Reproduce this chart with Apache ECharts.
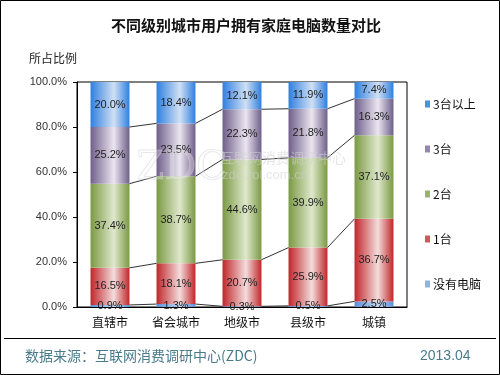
<!DOCTYPE html>
<html>
<head>
<meta charset="utf-8">
<script src="https://cdn.jsdelivr.net/npm/echarts@6/dist/echarts.min.js"></script>
<style>
  html, body { margin: 0; padding: 0; background: #fff; }
  #main { width: 500px; height: 375px; }
</style>
</head>
<body>
<div id="main"></div>
<script>
const categories = ['直辖市', '省会城市', '地级市', '县级市', '城镇']
const noPc = [0.9, 1.3, 0.3, 0.5, 2.5]
const onePc = [16.5, 18.1, 20.7, 25.9, 36.7]
const twoPc = [37.4, 38.7, 44.6, 39.9, 37.1]
const threePc = [25.2, 23.5, 22.3, 21.8, 16.3]
const morePc = [20.0, 18.4, 12.1, 11.9, 7.4]
const seriesNames = ['没有电脑', '1台', '2台', '3台', '3台以上']

const CJK = '"Noto Sans CJK SC", sans-serif'
const NUM = '"Liberation Sans", "Noto Sans CJK SC", sans-serif'
const BAR_RATIO = 0.59

const stacks = [noPc, onePc, twoPc, threePc, morePc]
// running totals per category, used for the connecting lines
const cumulative = categories.map((c, i) => {
  let sum = 0
  return stacks.map(s => (sum += s[i]))
})

function grad(edge, light) {
  return new echarts.graphic.LinearGradient(0, 0, 1, 0, [
    { offset: 0, color: edge },
    { offset: 0.6, color: light },
    { offset: 1, color: edge }
  ])
}

const colors = [
  grad('#5b8fd8', '#c6d8f2'),
  grad('#c0262a', '#f4dcdc'),
  grad('#7a9944', '#dfe8cc'),
  grad('#6e5f8a', '#ebe5f0'),
  grad('#2f7fe0', '#d0e0f4')
]
const legendColors = ['#8fb2e6', '#d0585a', '#9ab46c', '#9588ac', '#4d8fe0']

const chart = echarts.init(document.getElementById('main'))

const barSeries = stacks.map((data, k) => ({
  name: seriesNames[k],
  type: 'bar',
  stack: 'total',
  barWidth: (BAR_RATIO * 100) + '%',
  data: data,
  itemStyle: { color: colors[k] },
  label: {
    show: true,
    position: 'inside',
    color: '#222',
    fontFamily: NUM,
    fontSize: 11,
    formatter: p => p.value.toFixed(1) + '%'
  }
}))

const linkSeries = {
  type: 'custom',
  silent: true,
  z: 5,
  data: categories.slice(0, -1).map((c, i) => [i]),
  renderItem(params, api) {
    const i = api.value(0)
    const half = api.size([1, 0])[0] * BAR_RATIO / 2
    const children = []
    for (let k = 0; k < 4; k++) {
      const a = api.coord([i, cumulative[i][k]])
      const b = api.coord([i + 1, cumulative[i + 1][k]])
      children.push({
        type: 'line',
        shape: { x1: a[0] + half, y1: a[1], x2: b[0] - half, y2: b[1] },
        style: { stroke: '#333', lineWidth: 1 }
      })
    }
    return { type: 'group', children }
  }
}

chart.setOption({
  animation: false,
  backgroundColor: '#fff',
  title: {
    text: '不同级别城市用户拥有家庭电脑数量对比',
    left: 106,
    top: 13,
    textStyle: { fontFamily: CJK, fontSize: 15, fontWeight: 'bold', color: '#111' }
  },
  legend: {
    orient: 'vertical',
    left: 420,
    top: 93,
    itemGap: 33,
    itemWidth: 5,
    itemHeight: 7,
    icon: 'rect',
    data: seriesNames.slice().reverse().map(n => ({
      name: n,
      itemStyle: { color: legendColors[seriesNames.indexOf(n)] }
    })),
    textStyle: { fontFamily: CJK, fontSize: 12, color: '#111', padding: [0, 0, 0, -2] }
  },
  grid: { left: 77, right: 93, top: 82, bottom: 68, show: true, borderColor: '#000', borderWidth: 1 },
  xAxis: {
    type: 'category',
    data: categories,
    axisLine: { lineStyle: { color: '#000' } },
    axisTick: { inside: true, length: 4, lineStyle: { color: '#000' } },
    axisLabel: { fontFamily: CJK, fontSize: 12, color: '#111', margin: 9 }
  },
  yAxis: {
    type: 'value',
    min: 0,
    max: 100,
    interval: 20,
    splitLine: { show: false },
    axisLine: { show: true, lineStyle: { color: '#000' } },
    axisTick: { show: true, length: 4, lineStyle: { color: '#000' } },
    axisLabel: {
      fontFamily: NUM,
      fontSize: 11,
      color: '#333',
      margin: 10,
      formatter: v => v.toFixed(1) + '%'
    }
  },
  graphic: [
    { type: 'rect', shape: { x: 0.5, y: 0.5, width: 499, height: 374 }, style: { fill: 'none', stroke: '#000', lineWidth: 1 }, z: 100 },
    { type: 'line', shape: { x1: 4, y1: 338.5, x2: 496, y2: 338.5 }, style: { stroke: '#000', lineWidth: 1 } },
    { type: 'text', left: 29, top: 52, style: { text: '所占比例', font: '12px ' + CJK, fill: '#222' } },
    { type: 'text', left: 25, top: 349, style: { text: '数据来源：互联网消费调研中心(ZDC)', font: '14px ' + CJK, fill: '#4a7b8c' } },
    { type: 'text', left: 420, top: 349, style: { text: '2013.04', font: '14px ' + NUM, fill: '#4a7b8c' } },
    { type: 'text', left: 136, top: 148, z: 50, style: { text: 'ZDC', font: '40px "DejaVu Serif", serif', fill: 'rgba(255,255,255,0.25)', stroke: 'rgba(200,200,200,0.45)', lineWidth: 1 } },
    { type: 'text', left: 220, top: 151, z: 50, style: { text: '互联网消费调研中心', font: '14px ' + CJK, fill: 'rgba(210,210,210,0.55)' } },
    { type: 'text', left: 222, top: 169, z: 50, style: { text: 'zdc.zol.com.cn', font: '13px ' + NUM, fill: 'rgba(210,210,210,0.55)' } }
  ],
  series: [...barSeries, linkSeries]
})
</script>
</body>
</html>
